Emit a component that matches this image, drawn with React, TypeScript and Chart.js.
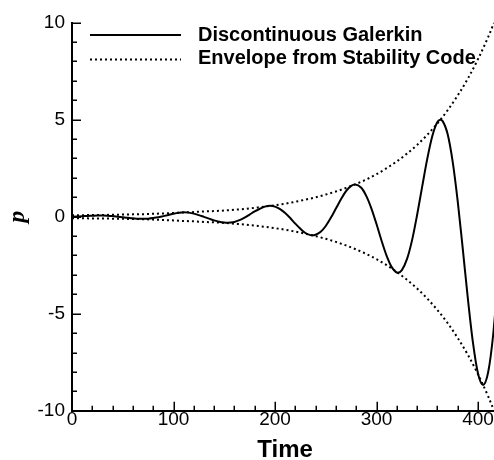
import React, { useEffect, useRef } from "react";
import { Chart, registerables } from "chart.js";

Chart.register(...registerables);

// Discontinuous Galerkin solution p(t)
const timeDG = [
  0, 5, 10, 15, 20, 25, 30, 35, 40, 45, 50, 55, 60, 65, 70, 75, 80, 85, 90, 95,
  100, 105, 110, 115, 120, 125, 130, 135, 140, 145, 150, 153, 160, 165, 170, 175,
  180, 185, 190, 195, 200, 205, 210, 215, 220, 225, 230, 235, 237, 240, 245, 250,
  255, 260, 265, 270, 275, 279, 285, 290, 295, 300, 305, 310, 315, 321, 325, 330,
  335, 340, 345, 350, 355, 360, 363, 365, 370, 375, 380, 385, 390, 395, 400, 405,
  410, 415, 420,
];
const pressureDG = [
  0.0, 0.01, 0.02, 0.04, 0.05, 0.06, 0.06, 0.05, 0.03, 0.0, -0.03, -0.06, -0.08, -0.1, -0.11, -0.1, -0.07, -0.03, 0.03, 0.09,
  0.15, 0.2, 0.23, 0.21, 0.16, 0.08, -0.01, -0.1, -0.19, -0.26, -0.3, -0.31, -0.27, -0.18, -0.05, 0.11,
  0.27, 0.41, 0.52, 0.56, 0.52, 0.39, 0.19, -0.07, -0.36, -0.62, -0.84, -0.95, -0.96, -0.93, -0.78, -0.48,
  -0.06, 0.42, 0.9, 1.32, 1.59, 1.66, 1.49, 1.06, 0.42, -0.38, -1.24, -2.02, -2.6, -2.89, -2.75, -2.19,
  -1.22, 0.09, 1.55, 2.98, 4.16, 4.88, 5.0, 4.94, 4.27, 2.85, 0.8, -1.66, -4.21, -6.48, -8.08, -8.67,
  -8.02, -6.06, -2.93,
];

// Growth envelope from the stability code
const timeEnv = [
  0, 10, 20, 30, 40, 50, 60, 70, 80, 90, 100, 110, 120, 130, 140, 150, 160, 170, 180, 190, 200,
  210, 220, 230, 240, 250, 260, 270, 280, 290, 300, 310, 320, 330, 340, 350, 360, 370, 380, 390,
  400, 410, 420,
];
const envelopeUpper = [
  0.08, 0.08, 0.09, 0.09, 0.1, 0.11, 0.12, 0.13, 0.15, 0.17, 0.19, 0.22, 0.24, 0.27, 0.29, 0.32, 0.36, 0.4, 0.46, 0.52, 0.59,
  0.67, 0.77, 0.88, 1.0, 1.14, 1.3, 1.48, 1.69, 1.92, 2.19, 2.5, 2.85, 3.25, 3.7, 4.22, 4.81, 5.48, 6.25, 7.12,
  8.12, 9.26, 10.55,
];
const envelopeLower = [
  -0.08, -0.08, -0.09, -0.09, -0.1, -0.11, -0.12, -0.13, -0.15, -0.17, -0.19, -0.22, -0.24, -0.27, -0.29, -0.32, -0.36, -0.4, -0.46, -0.52, -0.59,
  -0.67, -0.77, -0.88, -1.0, -1.14, -1.3, -1.48, -1.69, -1.92, -2.19, -2.5, -2.85, -3.25, -3.7, -4.22, -4.81, -5.48, -6.25, -7.12,
  -8.12, -9.26, -10.55,
];

const xTickValues = [0, 100, 200, 300, 400];
const yTickValues = [-10, -5, 0, 5, 10];
const X_MINOR_STEP = 20;
const Y_MINOR_STEP = 1;

const SANS = "'Liberation Sans', Arial, Helvetica, sans-serif";
const SERIF = "'Liberation Serif', 'Times New Roman', serif";

const toPoints = (xs: number[], ys: number[]) => xs.map((x, i) => ({ x, y: ys[i] }));

// Tick marks pointing into the plot, major and minor
const innerTicks = {
  id: "innerTicks",
  afterDraw(chart: any) {
    const { ctx, chartArea, scales } = chart;
    const x = scales.x;
    const y = scales.y;
    ctx.save();
    ctx.strokeStyle = "#000";
    ctx.lineWidth = 1.5;
    ctx.beginPath();
    for (let v = x.min; v <= x.max; v += X_MINOR_STEP) {
      const px = Math.round(x.getPixelForValue(v)) + 0.25;
      const len = v % 100 === 0 ? 9 : 5;
      ctx.moveTo(px, chartArea.bottom);
      ctx.lineTo(px, chartArea.bottom - len);
    }
    for (let v = y.min; v <= y.max; v += Y_MINOR_STEP) {
      const py = Math.round(y.getPixelForValue(v)) + 0.25;
      const len = v % 5 === 0 ? 9 : 5;
      ctx.moveTo(chartArea.left, py);
      ctx.lineTo(chartArea.left + len, py);
    }
    ctx.stroke();
    ctx.restore();
  },
};

// Legend drawn inside the plot, upper left
const insetLegend = {
  id: "insetLegend",
  afterDraw(chart: any) {
    const { ctx } = chart;
    const sets = chart.data.datasets;
    const rows = [
      { lineY: 35, textY: 35, ds: sets[0] },
      { lineY: 59.5, textY: 58.5, ds: sets[1] },
    ];
    ctx.save();
    ctx.font = `bold 20px ${SANS}`;
    ctx.textBaseline = "middle";
    ctx.textAlign = "left";
    ctx.fillStyle = "#000";
    rows.forEach((r) => {
      ctx.beginPath();
      ctx.setLineDash(r.ds.borderDash || []);
      ctx.lineWidth = r.ds.borderWidth;
      ctx.strokeStyle = r.ds.borderColor;
      ctx.moveTo(90, r.lineY);
      ctx.lineTo(181, r.lineY);
      ctx.stroke();
      ctx.setLineDash([]);
      ctx.fillText(r.ds.label, 198, r.textY);
    });
    ctx.restore();
  },
};

export default function App() {
  const canvasRef = useRef<HTMLCanvasElement | null>(null);

  useEffect(() => {
    if (!canvasRef.current) return;
    const chart = new Chart(canvasRef.current, {
      type: "line",
      data: {
        datasets: [
          {
            label: "Discontinuous Galerkin",
            data: toPoints(timeDG, pressureDG),
            borderColor: "#000",
            borderWidth: 2,
            pointRadius: 0,
            cubicInterpolationMode: "monotone",
            fill: false,
          },
          {
            label: "Envelope from Stability Code",
            data: toPoints(timeEnv, envelopeUpper),
            borderColor: "#000",
            borderWidth: 2,
            borderDash: [2, 3],
            pointRadius: 0,
            cubicInterpolationMode: "monotone",
            fill: false,
          },
          {
            label: "Envelope from Stability Code",
            data: toPoints(timeEnv, envelopeLower),
            borderColor: "#000",
            borderWidth: 2,
            borderDash: [2, 3],
            pointRadius: 0,
            cubicInterpolationMode: "monotone",
            fill: false,
          },
        ],
      },
      options: {
        responsive: false,
        animation: false,
        devicePixelRatio: 1,
        events: [],
        layout: { padding: { left: 0, top: 22.7, right: 21.7, bottom: 0 } },
        plugins: {
          legend: { display: false },
          tooltip: { enabled: false },
        },
        scales: {
          x: {
            type: "linear",
            min: 0,
            max: 420,
            afterFit: (s: any) => {
              s.height = 49.3;
            },
            afterBuildTicks: (s: any) => {
              s.ticks = xTickValues.map((v) => ({ value: v }));
            },
            grid: { drawOnChartArea: false, drawTicks: false },
            border: { display: true, color: "#000", width: 2 },
            ticks: {
              color: "#000",
              font: { family: SANS, size: 19, lineHeight: 1 },
              padding: 0,
              maxRotation: 0,
              autoSkip: false,
            },
            title: {
              display: true,
              text: "Time",
              color: "#000",
              font: { family: SANS, size: 24, weight: "bold", lineHeight: 1 },
              padding: { top: 0, bottom: -2 },
            },
          },
          y: {
            type: "linear",
            min: -10,
            max: 10,
            afterFit: (s: any) => {
              s.width = 72;
            },
            afterBuildTicks: (s: any) => {
              s.ticks = yTickValues.map((v) => ({ value: v }));
            },
            grid: { drawOnChartArea: false, drawTicks: false },
            border: { display: true, color: "#000", width: 2 },
            ticks: {
              color: "#000",
              font: { family: SANS, size: 19, lineHeight: 1 },
              padding: 7,
              autoSkip: false,
            },
            title: {
              display: true,
              text: "p",
              color: "#000",
              font: { family: SERIF, size: 24, style: "italic", weight: "bold", lineHeight: 1 },
              padding: { top: 6, bottom: 0 },
            },
          },
        },
      },
      plugins: [innerTicks, insetLegend],
    } as any);
    return () => chart.destroy();
  }, []);

  return (
    <div
      style={{
        position: "fixed",
        left: 0,
        top: 0,
        width: 494,
        height: 460,
        overflow: "hidden",
        background: "#fff",
      }}
    >
      <canvas ref={canvasRef} width={520} height={460} style={{ display: "block" }} />
    </div>
  );
}
